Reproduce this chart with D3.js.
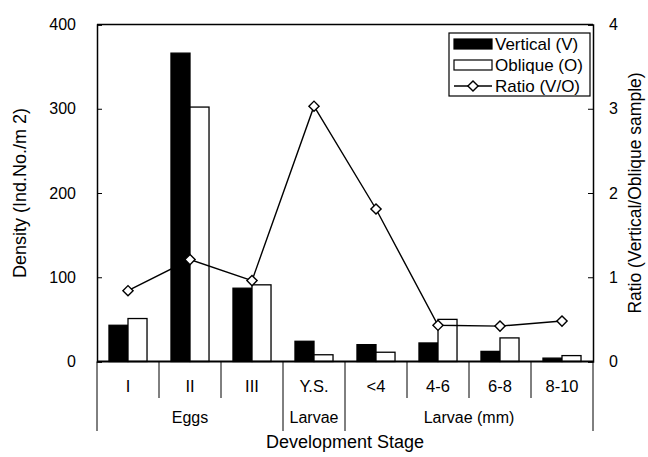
<!DOCTYPE html>
<html>
<head>
<meta charset="utf-8">
<script src="https://cdn.jsdelivr.net/npm/d3@7"></script>
<style>
  body { margin: 0; background: #fff; }
  svg text { font-family: "Liberation Sans", Arial, sans-serif; fill: #000; }
</style>
</head>
<body>
<div id="chart"></div>
<script>
// Chart data
const stages = ["I", "II", "III", "Y.S.", "<4", "4-6", "6-8", "8-10"];
const vertical = [43, 366, 87, 24, 20, 22, 12, 4];
const oblique = [51, 302, 91, 8, 11, 50, 28, 7];
const ratio = [0.84, 1.21, 0.96, 3.03, 1.81, 0.43, 0.42, 0.48];
const groups = [
    {label: "Eggs", from: 0, to: 2},
    {label: "Larvae", from: 3, to: 3},
    {label: "Larvae (mm)", from: 4, to: 7}
];
const densityTicks = [0, 100, 200, 300, 400];
const ratioTicks = [0, 1, 2, 3, 4];

const width = 648, height = 457;
const margin = {left: 97, right: 55, top: 24.5, bottom: 95.5};

const svg = d3.select("#chart").append("svg")
    .attr("width", width)
    .attr("height", height);

const x = d3.scaleBand()
    .domain(stages)
    .range([margin.left, width - margin.right])
    .paddingInner(0)
    .paddingOuter(0);

const xSub = d3.scaleBand()
    .domain(["V", "O"])
    .range([0, x.bandwidth()])
    .paddingInner(0)
    .paddingOuter(0.63);

const y = d3.scaleLinear().domain([0, 400]).range([height - margin.bottom, margin.top]);
const yR = d3.scaleLinear().domain([0, 4]).range([height - margin.bottom, margin.top]);

const x0 = margin.left, x1 = width - margin.right;
const yBase = y(0);

// Bars
const barData = [];
stages.forEach((s, i) => {
    barData.push({stage: s, key: "V", value: vertical[i]});
    barData.push({stage: s, key: "O", value: oblique[i]});
});

svg.append("g")
    .selectAll("rect")
    .data(barData)
    .enter()
    .append("rect")
    .attr("x", d => x(d.stage) + xSub(d.key))
    .attr("width", xSub.bandwidth())
    .attr("y", d => y(d.value))
    .attr("height", d => yBase - y(d.value))
    .attr("fill", d => d.key === "V" ? "#000" : "#fff")
    .attr("stroke", "#000")
    .attr("stroke-width", 1.3);

// Frame: top line, left and right axes
svg.append("line")
    .attr("x1", x0).attr("x2", x1)
    .attr("y1", margin.top).attr("y2", margin.top)
    .attr("stroke", "#000").attr("stroke-width", 1.3);

const leftAxis = d3.axisLeft(y).tickValues(densityTicks).tickSize(-5).tickPadding(21);
svg.append("g")
    .attr("transform", `translate(${x0},0)`)
    .call(leftAxis)
    .call(g => g.select(".domain").attr("stroke-width", 1.5))
    .call(g => g.selectAll("text").attr("font-size", 16).attr("font-family", "Liberation Sans, Arial, sans-serif"));

const rightAxis = d3.axisRight(yR).tickValues(ratioTicks).tickFormat(d3.format("d")).tickSize(-5).tickPadding(16);
svg.append("g")
    .attr("transform", `translate(${x1},0)`)
    .call(rightAxis)
    .call(g => g.select(".domain").attr("stroke-width", 1.5))
    .call(g => g.selectAll("text").attr("font-size", 16).attr("font-family", "Liberation Sans, Arial, sans-serif"));

// Baseline
svg.append("line")
    .attr("x1", x0).attr("x2", x1)
    .attr("y1", yBase).attr("y2", yBase)
    .attr("stroke", "#000").attr("stroke-width", 2);

// Category dividers below axis
const boundaries = d3.range(stages.length + 1);
const groupEdges = new Set([0, 3, 4, 8]);
svg.append("g")
    .selectAll("line")
    .data(boundaries)
    .enter()
    .append("line")
    .attr("x1", i => i < stages.length ? x(stages[i]) : x1)
    .attr("x2", i => i < stages.length ? x(stages[i]) : x1)
    .attr("y1", yBase)
    .attr("y2", i => groupEdges.has(i) ? 431 : 398)
    .attr("stroke", "#000")
    .attr("stroke-width", 1);

svg.append("g")
    .selectAll("text")
    .data(stages)
    .enter()
    .append("text")
    .attr("x", d => x(d) + x.bandwidth() / 2)
    .attr("y", 392)
    .attr("text-anchor", "middle")
    .attr("font-size", 16.5)
    .text(d => d);

svg.append("g")
    .selectAll("text")
    .data(groups)
    .enter()
    .append("text")
    .attr("x", d => (x(stages[d.from]) + x(stages[d.to]) + x.bandwidth()) / 2)
    .attr("y", 423)
    .attr("text-anchor", "middle")
    .attr("font-size", 16)
    .text(d => d.label);

// Axis titles
svg.append("text")
    .attr("x", (x0 + x1) / 2)
    .attr("y", 448)
    .attr("text-anchor", "middle")
    .attr("font-size", 18)
    .text("Development Stage");

svg.append("text")
    .attr("transform", `translate(26,${(margin.top + yBase) / 2}) rotate(-90)`)
    .attr("text-anchor", "middle")
    .attr("font-size", 18)
    .text("Density (Ind.No./m 2)");

svg.append("text")
    .attr("transform", `translate(641,${(margin.top + yBase) / 2}) rotate(-90)`)
    .attr("text-anchor", "middle")
    .attr("font-size", 17.5)
    .text("Ratio (Vertical/Oblique sample)");

// Ratio line
const line = d3.line()
    .x((d, i) => x(stages[i]) + x.bandwidth() / 2)
    .y(d => yR(d));

svg.append("path")
    .datum(ratio)
    .attr("d", line)
    .attr("fill", "none")
    .attr("stroke", "#000")
    .attr("stroke-width", 1.4);

const diamond = d3.symbol().type(d3.symbolSquare).size(52);
svg.append("g")
    .selectAll("path")
    .data(ratio)
    .enter()
    .append("path")
    .attr("d", diamond)
    .attr("transform", (d, i) => `translate(${x(stages[i]) + x.bandwidth() / 2},${yR(d)}) rotate(45)`)
    .attr("fill", "#fff")
    .attr("stroke", "#000")
    .attr("stroke-width", 1.4);

// Legend
const legend = svg.append("g").attr("transform", "translate(449,33)");
legend.append("rect")
    .attr("width", 141).attr("height", 63)
    .attr("fill", "#fff").attr("stroke", "#000").attr("stroke-width", 1.2);

const legendItems = ["Vertical (V)", "Oblique (O)", "Ratio (V/O)"];
legendItems.forEach((label, i) => {
    const cy = 11 + i * 21;
    if (i < 2) {
        legend.append("rect")
            .attr("x", 5).attr("y", cy - 5)
            .attr("width", 38).attr("height", 10)
            .attr("fill", i === 0 ? "#000" : "#fff")
            .attr("stroke", "#000").attr("stroke-width", 1.2);
    } else {
        legend.append("line")
            .attr("x1", 5).attr("x2", 43)
            .attr("y1", cy).attr("y2", cy)
            .attr("stroke", "#000").attr("stroke-width", 1.4);
        legend.append("path")
            .attr("d", diamond)
            .attr("transform", `translate(24,${cy}) rotate(45)`)
            .attr("fill", "#fff").attr("stroke", "#000").attr("stroke-width", 1.4);
    }
    legend.append("text")
        .attr("x", 46).attr("y", cy + 6)
        .attr("font-size", 17)
        .text(label);
});
</script>
</body>
</html>
